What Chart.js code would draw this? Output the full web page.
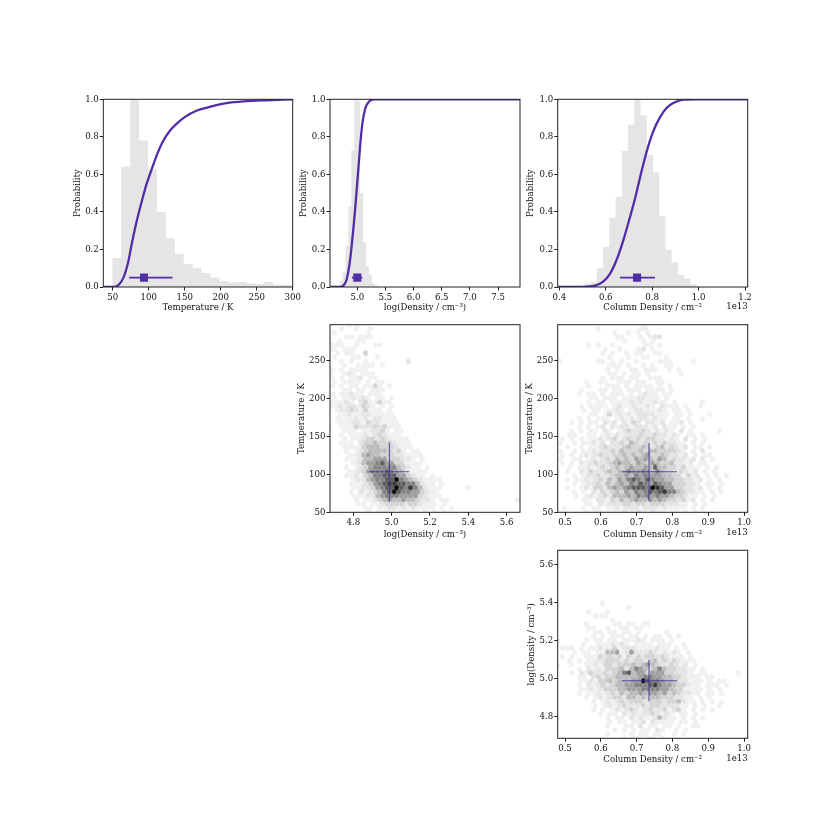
<!DOCTYPE html>
<html>
<head>
<meta charset="utf-8">
<title>corner plot</title>
<script src="https://cdn.jsdelivr.net/npm/chart.js@4"></script>
<style>
body { margin: 0; background: #fff; }
canvas { position: absolute; }
</style>
</head>
<body>
<script>
// histograms, one edge more than heights
const tempEdges = [49.5,61.9,74.3,86.7,99.1,111.5,123.9,136.3,148.7,161.1,173.5,185.9,198.3,210.7,223.1,235.5,247.9,260.3,272.7,285.1,297.5]
const tempHist = [0.155,0.64,1.0,0.78,0.63,0.40,0.26,0.177,0.123,0.10,0.075,0.05,0.032,0.024,0.027,0.02,0.016,0.027,0.012,0.01]
const densEdges = [4.686,4.738,4.790,4.842,4.894,4.946,4.998,5.05,5.102,5.154,5.206,5.258,5.31,5.362]
const densHist = [0.03,0.08,0.22,0.43,0.73,1.0,0.99,0.5,0.24,0.11,0.065,0.02,0.01]
const colEdges = [0.5078,0.5347,0.5616,0.5885,0.6154,0.6423,0.6692,0.6961,0.723,0.7499,0.7768,0.8037,0.8306,0.8575,0.8844,0.9113,0.9382,0.9651,0.992]
const colHist = [0.02,0.025,0.10,0.215,0.37,0.48,0.725,0.865,1.0,0.915,0.705,0.61,0.38,0.2,0.13,0.065,0.045,0.015]

// cumulative curves
const tempCdfX = [37,51,58,65,72,76,83,90,96,104,111,119,130,139,150,167,185,208,236,264,300]
const tempCdfY = [0,0,0.01,0.05,0.14,0.22,0.345,0.45,0.535,0.625,0.70,0.77,0.835,0.87,0.905,0.94,0.96,0.98,0.99,0.995,1]
const densCdfX = [4.515,4.69,4.76,4.81,4.87,4.93,4.96,4.99,5.05,5.09,5.14,5.2,5.3,7.89]
const densCdfY = [0,0,0.01,0.04,0.14,0.31,0.41,0.52,0.75,0.87,0.95,0.985,1,1]
const colCdfX = [0.393,0.518,0.561,0.59,0.618,0.647,0.676,0.705,0.726,0.748,0.776,0.805,0.834,0.863,0.891,0.934,0.992,1.2116]
const colCdfY = [0,0.002,0.01,0.03,0.07,0.145,0.25,0.375,0.47,0.585,0.72,0.83,0.905,0.955,0.98,0.998,1,1]

// best value with low and high end: marker row, then cross row
const markerY = 0.05
const tempMarker = [73,93.5,133]
const densMarker = [4.905,5.0,5.09]
const colMarker = [0.661,0.735,0.812]
const tempCross = [65,103.4,141.6]
const densCross = [4.882,4.988,5.092]
const densCrossV = [4.88,4.987,5.096]
const colCross = [0.658,0.7346,0.813]

// ticks
const probTicks = [0,0.2,0.4,0.6,0.8,1]
const tempTicksTop = [50,100,150,200,250,300]
const densTicksTop = [5,5.5,6,6.5,7,7.5]
const colTicksTop = [0.4,0.6,0.8,1,1.2]
const tempTicks = [50,100,150,200,250]
const densTicks = [4.8,5,5.2,5.4,5.6]
const colTicks = [0.5,0.6,0.7,0.8,0.9,1]

// hexbin counts as shade 0-9, rows from the top, columns from the left
const tempDensCounts = [
[0,0,0,0,1,0,1],
[0,0,1,0,0,1,0,0,1],
[0,1,0,0,0,0,0,0,1],
[0,0,0,1,1,0,1,1,1],
[0,0,1,0,0,0,1,1],
[1,1,1,0,0,1,0,0,0,1,1],
[1,1,0,1,1,1],
[0,1,0,1,1,0,0,3],
[0,1,0,0,0,1,1,0,0,0,1],
[0,0,1,0,1,0,0,1,0,0,0,0,0,0,0,0,2],
[0,0,0,1,0,0,1,1,1,1,0,1],
[1,0,1,0,1,1,1,1],
[1,0,0,1,2,1,0,1,1,1],
[1,0,1,0,1,1,2,0,1,1],
[0,1,0,1,1,1,1,0,1,0,1,1],
[1,0,1,0,1,1,0,1,1,3,1,0,1],
[0,0,0,1,1,0,1,1,0,1,1,1],
[1,0,1,1,2,1,1,0,1,1,1],
[0,1,0,1,1,2,1,2,1,0,1,1,0,1],
[1,1,1,2,1,0,2,3,1,1,3,1,1],
[1,1,2,1,2,2,1,3,2,1,0,1,0,1],
[0,1,2,2,3,2,1,3,1,1,1,0,1],
[0,0,1,1,2,1,1,2,2,1,1,1,1,1],
[0,1,1,1,1,2,1,2,1,2,2,1,1,1],
[0,0,1,1,1,2,2,1,3,2,2,1,1,1,1],
[0,0,1,1,1,3,2,2,2,3,2,3,1,1,1],
[0,0,0,1,1,1,0,1,1,2,2,3,1,0,1,1],
[0,0,1,0,1,1,1,2,1,2,3,2,1,1,1],
[0,0,0,1,0,1,1,2,3,3,2,3,2,1,1,1,1],
[0,0,1,1,1,0,2,3,3,4,3,3,3,2,1,1,1],
[0,0,0,1,1,1,1,3,4,4,4,3,3,3,2,1,1,1],
[0,0,0,1,0,1,2,3,4,4,4,4,3,2,3,1,0,1,1],
[0,0,0,0,1,1,2,4,5,4,4,3,3,3,2,2,1,1,1,1],
[0,0,0,1,1,1,2,4,4,5,5,5,3,3,3,2,2,1,0,1],
[0,0,0,0,0,1,2,4,5,5,6,7,5,5,3,3,1,1,1,1],
[0,0,0,1,0,1,2,3,5,6,6,6,6,6,4,3,2,1,1,0,1],
[0,0,0,0,1,1,2,3,5,6,6,6,7,6,5,4,2,1,1,1,1],
[0,0,0,1,1,2,1,3,4,6,6,7,7,7,5,5,3,2,1,1,0,1],
[0,0,0,0,0,1,2,2,4,5,6,6,7,7,9,6,5,4,3,2,1,1,1,1],
[0,0,0,0,1,1,1,2,3,5,6,7,8,8,7,7,6,6,4,2,1,1,0,1],
[0,0,0,0,0,1,1,2,2,3,5,6,7,7,9,7,6,8,6,4,2,1,1,1,0,0,0,0,0,1],
[0,0,0,0,1,0,2,1,2,3,4,6,7,9,7,6,6,5,5,3,2,1,1],
[0,0,0,0,0,1,1,1,2,2,4,5,6,6,6,5,5,5,5,3,2,1,1,1],
[0,0,0,0,0,1,0,1,1,2,3,4,5,4,4,5,4,4,3,2,2,1,0,1,1,0,0,0,0,0,0,0,0,0,0,0,0,0,0,1],
[0,0,0,0,0,0,1,1,0,1,1,2,3,3,3,3,2,3,3,2,1,1,1,0,1],
[0,0,0,0,0,0,0,1,1,0,1,1,2,2,1,2,1,2,1,1,1,1,0,1,0,1],
[0,0,0,0,0,0,0,0,1,0,1,1,1,1,0,1,1,1,1,0,1,0,1,0,1]
]
const tempColCounts = [
[0,0,0,0,0,0,0,0,0,0,0,0,0,0,0,0,0,0,1],
[0,0,0,0,0,0,0,0,1,0,0,0,0,0,0,0,0,1,1],
[0,0,0,0,0,0,0,0,0,0,0,0,1,0,0,1,0,1,0,1],
[0,0,0,0,0,0,0,0,0,0,0,0,1,1,0,0,0,1,0,1,2,2],
[0,0,0,0,0,0,0,0,0,0,0,0,0,0,1,0,0,0,1,0,1],
[0,0,0,0,0,0,1,0,1,0,0,1,0,0,0,0,0,0,1,1,0,1],
[0,0,0,0,0,0,0,0,0,0,1,0,0,1,0,0,0,1,2,0,1],
[0,0,0,0,0,0,0,0,0,1,0,1,0,0,1,0,1,1,0,0,1,1],
[0,0,0,0,0,0,0,0,0,0,0,1,0,0,0,1,0,0,1,1,0,0,0,1],
[1,0,0,0,0,0,0,0,1,1,0,1,0,1,0,0,1,0,0,0,0,1,1,1,0,0,0,0,1],
[0,0,0,0,0,0,0,0,0,0,0,1,1,1,0,1,0,0,1,0,1,0,0,1,1],
[0,0,0,0,0,0,0,0,0,0,1,0,1,0,0,1,1,0,1,1,1,0,0,1,0,1],
[0,0,0,0,0,0,0,0,0,0,0,1,1,0,1,0,1,1,0,1,0,0,0,0,0,0,1],
[0,0,0,0,0,0,0,0,0,1,0,1,1,1,0,1,1,0,0,1,1,1],
[0,0,0,0,0,0,1,0,0,1,1,0,0,1,1,1,0,1,1,0,0,1,1],
[0,0,0,0,0,0,1,0,0,0,1,1,1,0,1,0,1,1,1,1,0,1,0,1],
[0,0,0,0,0,1,0,0,0,1,1,0,1,1,0,1,1,1,0,1,1,1,1,0,1],
[0,0,0,0,1,0,1,1,0,1,0,1,1,1,0,1,0,1,2,1,1,0,1,1],
[0,0,0,0,0,0,0,1,1,0,1,1,1,0,1,1,1,2,2,1,1,1,0,1],
[0,0,0,0,0,0,1,0,1,1,0,1,1,1,1,2,1,2,1,1,2,1,1,0,1,0,0,0,0,0,1],
[0,0,0,0,0,1,0,1,1,1,1,0,1,2,1,1,2,1,1,2,1,0,2,1,1,1,0,1,0,0,1],
[0,0,0,0,0,1,0,1,1,0,1,1,2,1,0,1,2,2,1,1,1,2,1,0,1,1,0,1],
[0,0,0,0,0,0,0,1,1,0,1,3,1,2,1,2,1,2,2,2,2,1,1,1,0,1,1,0,1,0,0,0,1],
[0,0,0,0,1,0,1,0,1,1,1,0,1,2,1,2,1,2,2,1,2,1,1,0,1,1,0,1,0,0,1],
[0,0,0,1,0,1,0,1,1,0,2,1,2,0,2,1,3,2,0,2,2,1,2,0,1,1,2,0,1],
[0,0,0,0,1,0,1,0,1,2,0,2,1,2,2,1,2,2,2,1,2,0,2,1,1,0,1,0,1],
[0,0,0,1,0,1,0,1,1,0,2,1,0,1,2,3,2,2,3,2,1,2,1,2,1,0,2,0,1,0,0,0,0,0,1],
[0,0,1,1,0,0,1,1,0,1,2,1,2,1,2,2,2,3,2,2,3,2,2,1,2,1,0,1,1,0,1],
[0,1,0,1,0,1,0,1,1,2,1,2,3,1,2,3,2,3,2,3,3,2,2,1,2,1,0,2,0,1,0,1],
[1,0,0,1,0,1,1,2,1,2,0,2,2,3,2,4,3,2,3,2,3,2,3,2,2,1,1,0,1,0,1],
[0,0,1,0,0,1,0,1,1,2,3,2,2,2,3,4,3,3,4,3,2,3,4,2,3,2,1,2,0,1,1,0,1],
[1,0,0,1,0,1,1,2,1,2,2,3,2,4,3,3,3,4,3,4,4,3,3,3,3,2,1,0,1,0,2],
[0,1,0,1,0,1,2,1,2,3,2,2,3,3,4,3,4,3,4,5,3,3,4,3,2,2,1,2,0,1,0,1,1],
[1,0,0,1,1,0,1,2,1,2,3,2,4,3,4,3,5,4,5,4,3,5,4,2,3,2,2,1,2,0,2,0,1],
[0,1,0,1,0,2,1,2,3,2,2,3,4,5,4,4,3,5,4,3,5,4,3,3,4,2,2,1,2,0,1,1],
[0,0,1,0,1,1,2,1,2,3,2,3,4,3,4,5,4,4,5,4,7,4,4,3,3,2,3,1,1,1,0,1,0,1],
[1,0,1,0,0,2,1,3,2,2,3,4,3,4,4,6,5,5,6,5,4,6,4,3,3,2,3,2,1,2,0,1,0,1],
[0,0,0,1,0,1,2,2,3,2,2,3,4,4,5,4,6,5,6,5,5,5,4,4,3,3,1,3,1,2,0,1,0,1,0,1],
[0,0,1,0,1,1,2,1,2,3,2,4,3,5,4,6,7,6,5,7,6,5,5,4,4,3,3,2,2,1,2,0,1,0,1],
[0,0,0,1,0,1,2,2,3,2,4,3,4,5,4,6,5,7,6,5,7,6,5,5,3,3,3,2,2,1,0,1,1,0,1],
[0,0,1,0,0,1,2,1,3,3,2,4,5,4,5,6,7,7,7,6,9,8,7,5,5,3,3,2,2,1,2,0,1,0,1],
[0,0,0,1,0,1,0,2,1,3,2,3,4,3,5,4,6,5,6,7,6,7,8,6,6,4,3,2,2,1,1,0,1,0,1],
[0,0,0,0,1,0,1,2,1,2,3,2,4,4,4,5,4,6,5,6,5,6,5,5,4,3,3,2,1,1,0,1,0,1],
[0,0,0,0,0,1,1,0,2,2,1,3,2,4,3,4,5,4,4,5,4,5,4,3,3,2,3,1,2,0,1,0,1],
[0,0,0,0,0,0,1,1,0,2,1,2,2,2,3,3,2,3,3,2,3,3,3,2,2,2,1,1,0,1,0,1],
[0,1,0,0,0,1,0,1,1,0,1,1,2,1,2,2,2,1,2,2,2,1,2,1,1,1,1,0,1,0,1],
[0,0,0,0,0,0,1,0,1,1,0,1,1,1,2,1,1,2,1,1,2,1,1,0,1,1,0,1,0,1]
]
const densColCounts = [
[1],[],[],[],[],[],[],[],[],[],[],[],[],
[0,0,0,0,0,0,0,0,0,1],
[0,0,0,0,0,0,0,0,0,0,0,0,0,0,0,1],
[0,0,0,0,0,0,1,0,0,0,1],
[0,0,0,0,0,0,0,0,1,1,1],
[0,0,0,0,0,0,0,0,0,0,0,1],
[0,0,0,0,0,0,1,0,0,0,0,0,1,1,0,1,1,0,1,1],
[0,0,0,0,0,0,1,1,0,0,1,0,0,1,1,0,1,1],
[0,0,0,0,0,0,0,0,1,1,0,1,1,0,1,1,0,1,0,0,0,0,0,1],
[0,0,0,0,0,0,0,1,0,1,0,1,1,1,0,1,1,0,1,0,1,1,0,1,0,1],
[1,0,0,0,0,0,1,0,1,1,0,1,1,0,1,1,1,2,1,0,1,1,1,0,1],
[0,0,0,0,0,1,0,0,1,1,1,2,1,2,1,0,1,1,1,1,0,1,1,1,0,0,1],
[0,1,1,1,0,1,0,1,1,2,1,1,3,1,2,2,2,1,1,1,1,2,1,1,0,1,0,1],
[0,0,0,1,0,1,1,0,1,1,4,4,5,1,2,5,2,2,2,3,2,1,2,1,2,1,0,1],
[0,1,0,1,0,0,1,1,1,3,2,3,2,3,1,3,2,3,2,3,3,2,3,2,1,1,1,0,1],
[0,0,1,0,1,0,1,1,2,2,3,3,3,2,3,2,3,3,2,3,4,2,3,2,3,2,1,1,1],
[1,0,0,1,0,0,1,1,2,1,3,3,2,3,3,3,4,3,4,5,4,3,2,2,3,2,1,2,0,1],
[0,0,0,0,1,0,2,1,2,1,3,3,3,4,2,4,6,5,4,3,4,6,4,3,3,2,2,1,1,0,1],
[0,0,0,1,0,2,1,3,2,2,3,2,3,4,6,7,4,5,5,3,5,5,5,3,3,2,2,2,1,0,1,1,0,0,0,0,0,0,1],
[0,0,0,0,1,1,0,2,3,2,3,3,4,4,4,4,4,5,6,6,5,5,4,4,3,3,2,1,1,1,0,1,1],
[0,0,0,0,0,1,1,2,1,3,3,4,3,4,4,4,5,5,9,7,6,6,5,4,4,3,2,2,1,1,1,0,1,0,1,1],
[0,0,0,0,1,0,2,1,2,3,2,3,4,4,5,5,6,6,6,7,8,6,5,5,4,3,3,2,1,1,0,1,1,1,0,1],
[0,0,0,0,0,1,1,2,1,2,3,3,3,4,4,5,5,5,6,6,6,6,5,5,4,3,3,1,1,1,1,0,1,0,1],
[0,0,0,0,1,0,1,1,2,1,2,3,2,4,3,4,4,5,4,5,5,4,5,3,4,3,2,2,1,1,0,1,1,0,1],
[0,0,0,0,0,0,1,0,1,2,1,2,3,3,2,4,4,3,4,3,4,4,3,3,3,2,2,1,1,0,1,0,1],
[0,0,0,0,0,0,0,1,0,1,2,1,2,3,2,3,3,3,2,3,3,3,2,3,3,4,2,1,1,0,1,0,1,0,1],
[0,0,0,0,0,0,0,0,1,0,1,2,1,2,3,2,2,2,3,2,3,3,2,2,2,2,1,1,0,1,0,1,0,0,1],
[0,0,0,0,0,0,0,1,0,1,0,1,2,1,2,3,2,1,2,3,2,2,3,1,2,3,1,0,1,0,1,0,1],
[0,0,0,0,0,0,0,0,0,1,0,1,1,0,2,1,2,1,2,2,3,2,1,2,1,0,1,1,0,1],
[0,0,0,0,0,0,0,0,0,0,1,0,1,1,0,2,1,2,1,1,2,4,2,1,1,0,1,0,1,0,1],
[0,0,0,0,0,0,0,0,0,0,0,1,0,1,1,0,1,1,2,0,2,1,1,1,1,0,1,1,0,1],
[0,0,0,0,0,0,0,0,0,0,1,0,0,0,1,1,0,2,0,1,1,0,1,1,0,1,0,0,1,1],
[0,0,0,0,0,0,0,0,0,0,0,0,1,0,1,0,1,0,1,1,0,2,1,0,0,1,0,1],
[0,0,0,0,0,0,0,0,0,0,1,0,0,0,0,1,0,1,1,0,1,1,0,0,1,0,1],
[0,0,0,0,0,0,0,0,0,0,0,0,0,0,1,0,1,1,0,1,1,0,1]
]

const purple = '#512da8'
const crossColor = 'rgba(72,50,150,0.85)'
const histColor = '#e5e5e5'
const shades = ['#fff','#f0f0f0','#e4e4e4','#d3d3d3','#bbbbbb','#9e9e9e','#828282','#5c5c5c','#383838','#0a0a0a']
const fontName = '"DejaVu Serif"'
const labelSize = 8.6
const HEX_COLS = 40, HEX_ROWS = 23

// little hexagon pictures, used as point style
const hexIcons = shades.map(c => {
    let cv = document.createElement('canvas')
    cv.width = 5
    cv.height = 6
    let g = cv.getContext('2d')
    g.fillStyle = c
    g.beginPath()
    g.moveTo(2.5,0.1); g.lineTo(4.85,1.5); g.lineTo(4.85,4.5)
    g.lineTo(2.5,5.9); g.lineTo(0.15,4.5); g.lineTo(0.15,1.5)
    g.closePath()
    g.fill()
    return cv
})

function xy(xs, ys) {
    return xs.map((x,i) => ({x:x, y:ys[i]}))
}
function histPoints(edges, heights) {
    let pts = [{x:edges[0], y:0}]
    heights.forEach((h,i) => pts.push({x:edges[i], y:h}))
    pts.push({x:edges[edges.length-1], y:0})
    return pts
}
function hexCells(rows, xr, yr) {
    let sx = (xr[1]-xr[0])/HEX_COLS
    let sy = (yr[1]-yr[0])/HEX_ROWS
    let cells = []
    rows.forEach((row,r) => {
        let k = rows.length-1-r
        row.forEach((v,j) => {
            if (v > 0) cells.push({x:xr[0]+(j+(k%2 ? 0.5 : 0))*sx, y:yr[0]+k*sy/2, level:v})
        })
    })
    return cells
}
function line(pts, color, width) {
    return {data:pts, showLine:true, borderColor:color, borderWidth:width, pointRadius:0, fill:false, tension:0}
}
function topDatasets(edges, hist, cdfX, cdfY, m) {
    let cdf = line(xy(cdfX,cdfY), purple, 2.3)
    cdf.cubicInterpolationMode = 'monotone'
    return [
        {data:[{x:m[1], y:markerY}], pointStyle:'rect', pointRadius:5.7, pointBackgroundColor:purple, pointBorderWidth:0},
        line([{x:m[0], y:markerY},{x:m[2], y:markerY}], purple, 1.6),
        cdf,
        {data:histPoints(edges,hist), showLine:true, stepped:true, borderWidth:0, pointRadius:0, fill:'origin', backgroundColor:histColor}
    ]
}
function hexDatasets(rows, xr, yr, xc, yc) {
    return [
        line([{x:xc[1], y:yc[0]},{x:xc[1], y:yc[2]}], crossColor, 1.1),
        line([{x:xc[0], y:yc[1]},{x:xc[2], y:yc[1]}], crossColor, 1.1),
        {data:hexCells(rows,xr,yr), pointStyle:c => hexIcons[c.raw.level], pointRadius:3, pointBorderWidth:0}
    ]
}

// frame on all four sides, and the 1e13 offset text
const framePlugin = {
    id:'frame',
    afterDraw(chart, args, opts) {
        let a = chart.chartArea, c = chart.ctx
        c.save()
        c.strokeStyle = '#222'
        c.lineWidth = 1
        c.strokeRect(a.left, a.top, a.right-a.left, a.bottom-a.top)
        if (opts.offsetText) {
            c.fillStyle = '#111'
            c.font = labelSize+'px '+fontName
            c.textAlign = 'right'
            c.textBaseline = 'middle'
            c.fillText(opts.offsetText, a.right, a.bottom+opts.offsetGap)
        }
        c.restore()
    }
}

function panel(p) {
    let yw = p.yGap+labelSize*0.6
    let xh = p.xGap+labelSize*0.6
    let cx = Math.floor(p.L-yw), cy = Math.floor(p.T-10)
    let cw = Math.ceil(p.R+24)-cx, ch = Math.ceil(p.B+xh)-cy
    let cv = document.createElement('canvas')
    cv.width = cw
    cv.height = ch
    cv.style.left = cx+'px'
    cv.style.top = cy+'px'
    document.body.appendChild(cv)
    let font = {family:fontName, size:labelSize}
    new Chart(cv, {
        type:'scatter',
        data:{datasets:p.datasets},
        plugins:[framePlugin],
        options:{
            responsive:false,
            animation:false,
            devicePixelRatio:1,
            layout:{padding:{left:p.L-yw-cx, top:p.T-cy, right:cx+cw-p.R, bottom:cy+ch-p.B-xh}},
            plugins:{legend:{display:false}, tooltip:{enabled:false}, frame:{offsetText:p.offsetText, offsetGap:p.offsetGap}},
            scales:{
                x:{
                    type:'linear', min:p.xr[0], max:p.xr[1],
                    afterBuildTicks:s => { s.ticks = p.xTicks.map(v => ({value:v})) },
                    afterFit:s => { s.height = xh },
                    border:{display:false},
                    grid:{drawOnChartArea:false, tickLength:3.5, color:'#222'},
                    ticks:{autoSkip:false, maxRotation:0, padding:2, color:'#111', font:font, callback:v => v.toFixed(p.xDec)},
                    title:{display:true, text:p.xTitle, color:'#111', font:font, padding:0}
                },
                y:{
                    type:'linear', min:p.yr[0], max:p.yr[1],
                    afterBuildTicks:s => { s.ticks = p.yTicks.map(v => ({value:v})) },
                    afterFit:s => { s.width = yw },
                    border:{display:false},
                    grid:{drawOnChartArea:false, tickLength:3.5, color:'#222'},
                    ticks:{autoSkip:false, padding:1, color:'#111', font:font, callback:v => v.toFixed(p.yDec)},
                    title:{display:true, text:p.yTitle, color:'#111', font:font, padding:0}
                }
            }
        }
    })
}

const tempLabel = 'Temperature / K'
const densLabel = 'log(Density / cm\u207B\u00B3)'
const colLabel = 'Column Density / cm\u207B\u00B2'
const tempRange = [50,297], densRange = [4.678,5.67], colRange = [0.4796,1.0103], densRangeY = [4.684,5.674]

panel({L:103.3, R:292.7, T:99.3, B:287, xr:[37,300], yr:[0,1], xTicks:tempTicksTop, yTicks:probTicks, xDec:0, yDec:1,
    xTitle:tempLabel, yTitle:'Probability', xGap:20.7, yGap:26,
    datasets:topDatasets(tempEdges,tempHist,tempCdfX,tempCdfY,tempMarker)})
panel({L:330, R:520, T:99.3, B:287, xr:[4.515,7.89], yr:[0,1], xTicks:densTicksTop, yTicks:probTicks, xDec:1, yDec:1,
    xTitle:densLabel, yTitle:'Probability', xGap:21, yGap:26,
    datasets:topDatasets(densEdges,densHist,densCdfX,densCdfY,densMarker)})
panel({L:557.7, R:747.7, T:99.3, B:287, xr:[0.393,1.2116], yr:[0,1], xTicks:colTicksTop, yTicks:probTicks, xDec:1, yDec:1,
    xTitle:colLabel, yTitle:'Probability', xGap:21, yGap:26.7, offsetText:'1e13', offsetGap:20,
    datasets:topDatasets(colEdges,colHist,colCdfX,colCdfY,colMarker)})
panel({L:330, R:520, T:324.7, B:512.3, xr:densRange, yr:tempRange, xTicks:densTicks, yTicks:tempTicks, xDec:1, yDec:0,
    xTitle:densLabel, yTitle:tempLabel, xGap:22, yGap:28,
    datasets:hexDatasets(tempDensCounts,densRange,tempRange,densCross,tempCross)})
panel({L:557.7, R:747.7, T:324.7, B:512.3, xr:colRange, yr:tempRange, xTicks:colTicks, yTicks:tempTicks, xDec:1, yDec:0,
    xTitle:colLabel, yTitle:tempLabel, xGap:22, yGap:28.4, offsetText:'1e13', offsetGap:20,
    datasets:hexDatasets(tempColCounts,colRange,tempRange,colCross,tempCross)})
panel({L:557.7, R:747.7, T:550.3, B:738.3, xr:colRange, yr:densRangeY, xTicks:colTicks, yTicks:densTicks, xDec:1, yDec:1,
    xTitle:colLabel, yTitle:densLabel, xGap:21, yGap:26.4, offsetText:'1e13', offsetGap:20,
    datasets:hexDatasets(densColCounts,colRange,densRangeY,colCross,densCrossV)})
</script>
</body>
</html>
